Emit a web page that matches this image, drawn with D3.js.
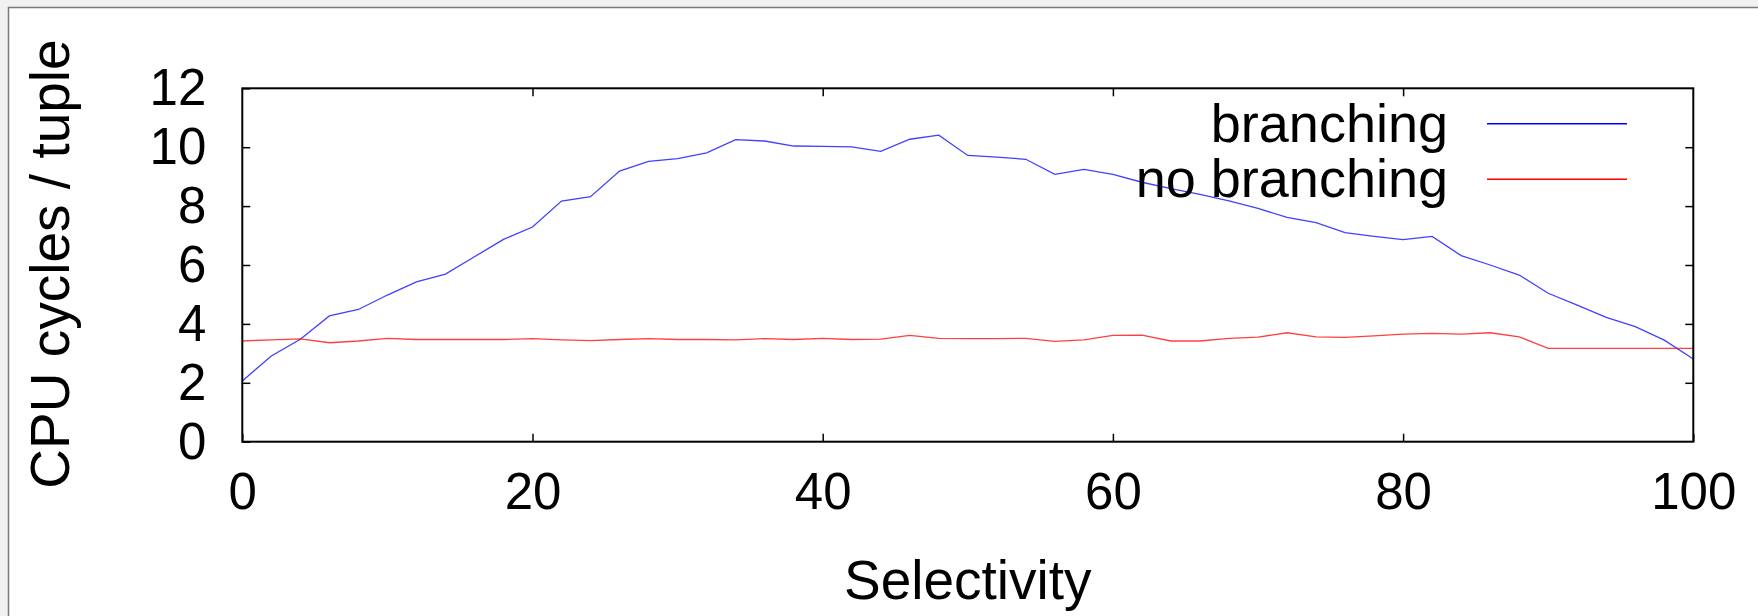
<!DOCTYPE html>
<html>
<head>
<meta charset="utf-8">
<script src="https://cdn.jsdelivr.net/npm/d3@7"></script>
<style>
body { margin:0; background:#f1f1f1; }
text { font-family: "Liberation Sans", Arial, Helvetica, sans-serif; fill:#000; }
</style>
</head>
<body>
<svg id="graph"></svg>
<script>
//----------data-------------
var selectivity = [0,2,4,6,8,10,12,14,16,18,20,22,24,26,28,30,32,34,36,38,40,42,44,46,48,50,
	52,54,56,58,60,62,64,66,68,70,72,74,76,78,80,82,84,86,88,90,92,94,96,98,100];
var branching = [2.06,2.91,3.48,4.27,4.49,4.98,5.43,5.69,6.28,6.87,7.29,8.17,8.32,9.19,9.52,9.61,9.81,
	10.26,10.21,10.04,10.03,10.01,9.86,10.27,10.41,9.72,9.66,9.59,9.08,9.25,9.08,8.81,8.59,8.40,
	8.18,7.92,7.62,7.44,7.10,6.97,6.86,6.97,6.32,6.00,5.66,5.04,4.64,4.22,3.91,3.45,2.81];
var noBranching = [3.42,3.46,3.49,3.36,3.42,3.51,3.47,3.47,3.47,3.47,3.50,3.46,3.43,3.47,3.50,3.47,3.47,
	3.46,3.50,3.47,3.51,3.47,3.48,3.61,3.51,3.50,3.50,3.51,3.41,3.46,3.61,3.62,3.42,3.42,
	3.51,3.55,3.70,3.56,3.54,3.59,3.65,3.68,3.65,3.70,3.56,3.17,3.17,3.17,3.17,3.17,3.17];
var seriesNames = ["branching","no branching"];
var seriesColors = ["#0000ff","#ff0000"];
var xTicks = [0,20,40,60,80,100];
var yTicks = [0,2,4,6,8,10,12];

//----------setup-------------
var screen = {width:1758, height:616};
var plot = {left:242.3, right:1693.3, top:88.3, bottom:441.7};

var svg = d3.select("#graph")
	.attr("width", screen.width)
	.attr("height", screen.height);

// page frame
svg.append("rect")
	.attr("x",8.5).attr("y",7.5)
	.attr("width",1800).attr("height",700)
	.attr("fill","white")
	.attr("stroke","#7a7a7a")
	.attr("stroke-width",1.5);

var xScale = d3.scaleLinear()
	.domain([0,100])
	.range([plot.left, plot.right]);
var yScale = d3.scaleLinear()
	.domain([0,12])
	.range([plot.bottom, plot.top]);

//----------axes-------------
var tickLen = 8;
var axisStyle = function (g)
{
	g.select(".domain").remove();
	g.selectAll("line").attr("stroke","#000").attr("stroke-width",1.5);
}

svg.append("g")
	.attr("transform","translate(0,"+plot.bottom+")")
	.call(d3.axisBottom(xScale).tickValues(xTicks).tickSize(-tickLen).tickPadding(31))
	.call(axisStyle)
	.selectAll("text")
	.attr("font-size",51)
	.attr("dy","0.71em");

svg.append("g")
	.attr("transform","translate(0,"+plot.top+")")
	.call(d3.axisTop(xScale).tickValues(xTicks.slice(1,-1)).tickSize(-tickLen).tickFormat(""))
	.call(axisStyle);

svg.append("g")
	.attr("transform","translate("+plot.left+",0)")
	.call(d3.axisLeft(yScale).tickValues(yTicks).tickSize(-tickLen).tickPadding(36))
	.call(axisStyle)
	.selectAll("text")
	.attr("font-size",51)
	.attr("dy","0.32em");

svg.append("g")
	.attr("transform","translate("+plot.right+",0)")
	.call(d3.axisRight(yScale).tickValues(yTicks.slice(1,-1)).tickSize(-tickLen).tickFormat(""))
	.call(axisStyle);

//----------lines-------------
var line = d3.line()
	.x(function (d,i) { return xScale(selectivity[i]); })
	.y(function (d) { return yScale(d); });

var allSeries = [branching, noBranching];
svg.append("g")
	.selectAll("path")
	.data(allSeries)
	.enter()
	.append("path")
	.attr("d", line)
	.attr("fill","none")
	.attr("stroke", function (d,i) { return seriesColors[i]; })
	.attr("stroke-opacity",0.75)
	.attr("stroke-width",1.3);

// plot border
svg.append("rect")
	.attr("x",plot.left).attr("y",plot.top)
	.attr("width",plot.right-plot.left)
	.attr("height",plot.bottom-plot.top)
	.attr("fill","none")
	.attr("stroke","#000")
	.attr("stroke-width",2);

//----------legend-------------
var legend = svg.append("g")
	.selectAll("g")
	.data(seriesNames)
	.enter()
	.append("g")
	.attr("transform", function (d,i) { return "translate(0,"+(123.7+i*55.6)+")"; });

legend.append("text")
	.attr("x",1448)
	.attr("y",18)
	.attr("text-anchor","end")
	.attr("font-size",54)
	.text(function (d) { return d; });

legend.append("line")
	.attr("x1",1487).attr("x2",1627)
	.attr("y1",0).attr("y2",0)
	.attr("stroke", function (d,i) { return seriesColors[i]; })
	.attr("stroke-width",1.5);

//----------titles-------------
svg.append("text")
	.attr("x",(plot.left+plot.right)/2)
	.attr("y",599)
	.attr("text-anchor","middle")
	.attr("font-size",55)
	.text("Selectivity");

svg.append("text")
	.attr("transform","translate(69,264) rotate(-90)")
	.attr("text-anchor","middle")
	.attr("font-size",55)
	.text("CPU cycles / tuple");
</script>
</body>
</html>
